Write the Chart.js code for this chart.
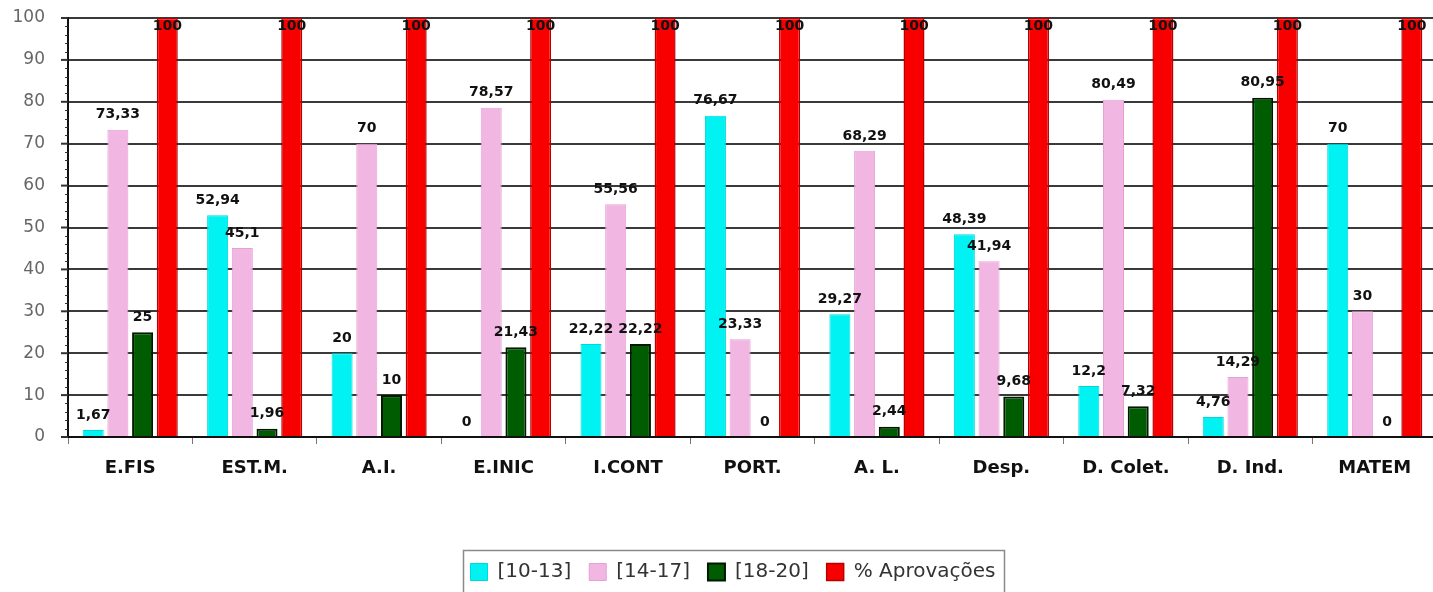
<!DOCTYPE html>
<html>
<head>
<meta charset="utf-8">
<script src="https://cdn.jsdelivr.net/npm/chart.js@4.4.1/dist/chart.umd.min.js"></script>
<style>
  html, body { margin: 0; padding: 0; background: #ffffff; overflow: hidden; }
  #wrap { width: 1433px; height: 592px; overflow: hidden; position: relative; }
  canvas { display: block; }
</style>
</head>
<body>
<div id="wrap"><canvas id="c" width="1438" height="592"></canvas></div>
<script>
// ---- data ----
const categories = ['E.FIS', 'EST.M.', 'A.I.', 'E.INIC', 'I.CONT', 'PORT.', 'A. L.', 'Desp.', 'D. Colet.', 'D. Ind.', 'MATEM'];
const seriesNames = ['[10-13]', '[14-17]', '[18-20]', '% Aprovações'];
const grade10to13 = [1.67, 52.94, 20, 0, 22.22, 76.67, 29.27, 48.39, 12.2, 4.76, 70];
const grade14to17 = [73.33, 45.1, 70, 78.57, 55.56, 23.33, 68.29, 41.94, 80.49, 14.29, 30];
const grade18to20 = [25, 1.96, 10, 21.43, 22.22, 0, 2.44, 9.68, 7.32, 80.95, 0];
const approvals   = [100, 100, 100, 100, 100, 100, 100, 100, 100, 100, 100];
const yTicks = [0, 10, 20, 30, 40, 50, 60, 70, 80, 90, 100];

const FONT = "'DejaVu Sans', Verdana, sans-serif";

const valueLabels = {
  id: 'valueLabels',
  afterDatasetsDraw(chart) {
    const ctx = chart.ctx;
    const area = chart.chartArea;
    ctx.save();
    ctx.font = "bold 14px " + FONT;
    ctx.fillStyle = '#111';
    ctx.textAlign = 'center';
    ctx.textBaseline = 'middle';
    chart.data.datasets.forEach((ds, di) => {
      const meta = chart.getDatasetMeta(di);
      meta.data.forEach((el, i) => {
        const v = ds.data[i];
        let y = el.y - 15;
        if (y < area.top + 8) y = area.top + 8;
        ctx.fillText(String(v).replace('.', ','), el.x, y);
      });
    });
    ctx.restore();
  }
};

const extras = {
  id: 'extras',
  afterLayout(chart) {
    const L = chart.legend;
    if (!L) return;
    const w = L.width, h = L.height;
    const pad = L.options.labels.padding;
    const ih = (L.legendHitBoxes && L.legendHitBoxes[0]) ? L.legendHitBoxes[0].height : 20;
    L.left = 733 - w / 2; L.right = L.left + w;
    L.top = 572 - pad - ih / 2; L.bottom = L.top + h;
  },
  afterDraw(chart) {
    const ctx = chart.ctx;
    const L = chart.legend;
    const area = chart.chartArea;
    ctx.save();
    // legend frame
    if (L && L.lineWidths) {
      const pad = L.options.labels.padding;
      const rowW = L.lineWidths[0] - pad;
      const cx = (L.left + L.right) / 2;
      ctx.strokeStyle = '#8a8a8a';
      ctx.lineWidth = 1.5;
      ctx.strokeRect(Math.round(cx - rowW / 2 - 8) + 0.5, 550.5, Math.round(rowW + 16), 60);
    }
    // major and minor ticks on the y axis
    const ys = chart.scales.y;
    ctx.strokeStyle = '#333';
    for (let v = 0; v <= 100; v += 2) {
      const major = v % 10 === 0;
      ctx.lineWidth = major ? 2 : 1;
      const y = major ? ys.getPixelForValue(v) : Math.round(ys.getPixelForValue(v)) + 0.5;
      ctx.beginPath();
      ctx.moveTo(area.left - (major ? 7 : 3), y);
      ctx.lineTo(area.left, y);
      ctx.stroke();
    }
    ctx.restore();
  }
};

new Chart(document.getElementById('c'), {
  type: 'bar',
  data: {
    labels: categories,
    datasets: [
      { label: seriesNames[0], data: grade10to13, backgroundColor: '#00F2F2', borderColor: '#00D8D8', borderWidth: 1 },
      { label: seriesNames[1], data: grade14to17, backgroundColor: '#F2B6E2', borderColor: '#E4A2D2', borderWidth: 1 },
      { label: seriesNames[2], data: grade18to20, backgroundColor: '#005C00', borderColor: '#001800', borderWidth: 2 },
      { label: seriesNames[3], data: approvals, backgroundColor: '#F80000', borderColor: '#B80000', borderWidth: 1.5 }
    ]
  },
  options: {
    responsive: false,
    animation: false,
    devicePixelRatio: 1,
    layout: { autoPadding: false, padding: { top: 18, right: 1, bottom: 0, left: 0 } },
    datasets: { bar: { categoryPercentage: 0.794, barPercentage: 0.85, borderSkipped: 'start' } },
    plugins: {
      tooltip: { enabled: false },
      legend: {
        position: 'bottom',
        labels: {
          font: { family: FONT, size: 20 },
          color: '#333',
          boxWidth: 17,
          boxHeight: 17,
          padding: 18
        }
      }
    },
    scales: {
      x: {
        afterFit(scale) {
          const lh = scale.chart.legend ? scale.chart.legend.height : 0;
          scale.height = 592 - 437 - lh;
        },
        grid: { display: true, drawOnChartArea: false, drawTicks: true, tickLength: 7, color: '#777', lineWidth: 1, offset: true },
        border: { display: true, color: '#111', width: 2 },
        ticks: { font: { family: FONT, size: 18, weight: 'bold' }, color: '#111', padding: 14, maxRotation: 0 }
      },
      y: {
        min: 0, max: 100,
        afterFit(scale) { scale.width = 68; },
        afterBuildTicks(scale) { scale.ticks = yTicks.map(v => ({ value: v })); },
        grid: { color: '#3a3a3a', lineWidth: 2, drawTicks: true, tickLength: 21, tickColor: 'rgba(0,0,0,0)' },
        border: { display: true, color: '#111', width: 2 },
        ticks: { font: { family: FONT, size: 17 }, color: '#666', padding: 2 }
      }
    }
  },
  plugins: [valueLabels, extras]
});
</script>
</body>
</html>
